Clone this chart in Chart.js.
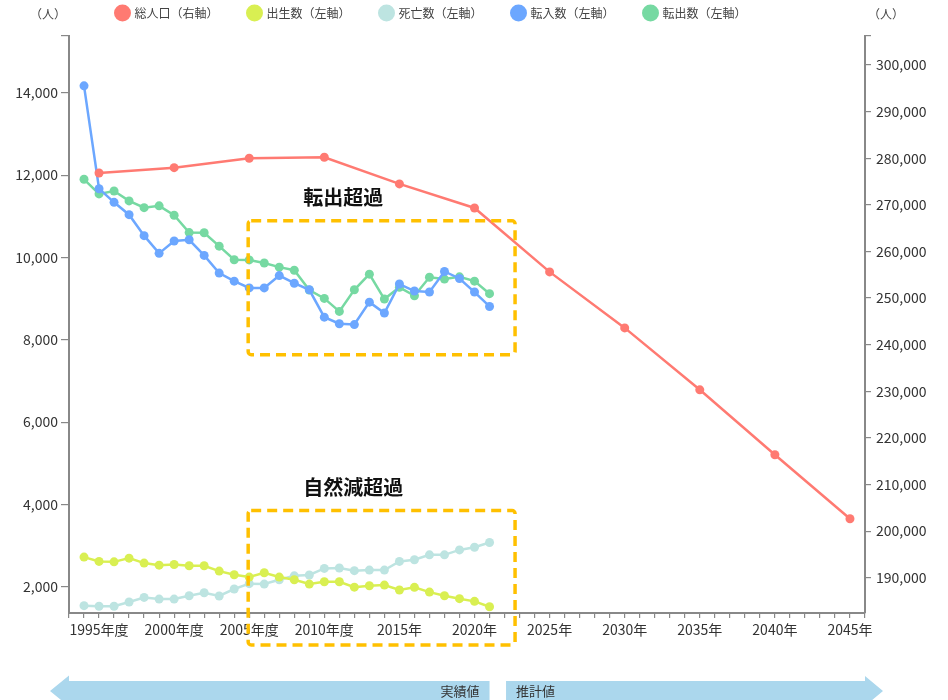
<!DOCTYPE html>
<html><head><meta charset="utf-8">
<script src="https://cdn.jsdelivr.net/npm/chart.js@4.4.1/dist/chart.umd.min.js"></script>
<style>html,body{margin:0;padding:0;background:#fff;} #wrap{width:948px;height:700px;position:relative;}</style>
</head><body><div id="wrap"><canvas id="c" width="948" height="700"></canvas></div>
<script>
// ---- data ----
const years = [1994,1995,1996,1997,1998,1999,2000,2001,2002,2003,2004,2005,2006,2007,2008,2009,2010,2011,2012,2013,2014,2015,2016,2017,2018,2019,2020,2021];
const births   = [2720,2615,2605,2695,2575,2525,2540,2510,2510,2380,2290,2235,2340,2235,2170,2065,2120,2120,1990,2025,2040,1920,1985,1870,1780,1710,1645,1515];
const deaths   = [1540,1525,1525,1630,1740,1700,1700,1780,1855,1775,1945,2075,2065,2170,2265,2285,2445,2455,2390,2405,2405,2615,2655,2775,2775,2895,2960,3075];
const movedIn  = [14170,11670,11340,11040,10530,10100,10400,10430,10050,9620,9425,9260,9260,9560,9375,9215,8550,8390,8370,8915,8650,9355,9185,9160,9660,9490,9160,8810];
const movedOut = [11900,11545,11615,11375,11210,11255,11025,10605,10600,10275,9945,9940,9865,9765,9690,9210,9005,8690,9215,9595,8990,9275,9070,9520,9475,9530,9425,9120];
const popYears = [1995,2000,2005,2010,2015,2020,2025,2030,2035,2040,2045];
const population = [276830,277970,279990,280200,274480,269330,255610,243600,230310,216370,202650];
const tickYears  = [1995,2000,2005,2010,2015,2020,2025,2030,2035,2040,2045];
const tickLabels = ['1995年度','2000年度','2005年度','2010年度','2015年','2020年','2025年','2030年','2035年','2040年','2045年'];
const seriesNames = ['総人口（右軸）','出生数（左軸）','死亡数（左軸）','転入数（左軸）','転出数（左軸）'];

const colors = ['#FF7A72','#D9EF52','#BDE4E1','#6CA7FF','#76D9A2'];
const FONT = '"Noto Sans CJK JP","Noto Sans",sans-serif';
Chart.defaults.font.family = FONT;

function pts(xs, ys){ return xs.map((x,i)=>({x:x, y:ys[i]})); }
function ds(i, data, axis){
  return {label: seriesNames[i], data: data, yAxisID: axis,
    borderColor: colors[i], backgroundColor: colors[i], pointBackgroundColor: colors[i], pointBorderColor: colors[i],
    borderWidth: 2.5, pointRadius: 4.5, pointBorderWidth: 0, pointHoverRadius: 4.5, tension: 0, fill:false};
}

const decor = {
  id: 'decor',
  afterLayout(chart){
    const lg = chart.legend;
    if (lg){ lg.top = 7 - 30; lg.left = -42.5; lg.right = 948 - 42.5; }
  },
  afterDraw(chart){
    const ctx = chart.ctx, xs = chart.scales.x, ys = chart.scales.y;
    ctx.save();
    // unit labels
    ctx.fillStyle = '#444'; ctx.font = '12px ' + FONT; ctx.textAlign = 'center'; ctx.textBaseline = 'middle';
    ctx.fillText('（人）', 48, 14);
    ctx.fillText('（人）', 886, 14);
    // dashed boxes
    const boxes = [[2004.93, 10891, 2022.7, 7638],[2004.93, 3852, 2022.7, 587]];
    ctx.strokeStyle = '#FFC000'; ctx.lineWidth = 3.5; ctx.setLineDash([10,6]);
    boxes.forEach(b=>{
      const x1 = xs.getPixelForValue(b[0]), x2 = xs.getPixelForValue(b[2]);
      const y1 = ys.getPixelForValue(b[1]), y2 = ys.getPixelForValue(b[3]);
      ctx.beginPath(); ctx.roundRect(x1, y1, x2-x1, y2-y1, 3); ctx.stroke();
    });
    ctx.setLineDash([]);
    // annotation texts
    ctx.fillStyle = '#111'; ctx.font = 'bold 20px ' + FONT; ctx.textAlign = 'left';
    ctx.fillText('転出超過', xs.getPixelForValue(2008.6), ys.getPixelForValue(11449));
    ctx.fillText('自然減超過', xs.getPixelForValue(2008.6), ys.getPixelForValue(4410));
    // arrows
    ctx.fillStyle = '#ABD7ED';
    const xEnd = xs.getPixelForValue(2021), xStart2 = xs.getPixelForValue(2022.1), xR = xs.right;
    ctx.beginPath();
    ctx.moveTo(50, 691); ctx.lineTo(69, 675.5); ctx.lineTo(69, 681); ctx.lineTo(xEnd, 681);
    ctx.lineTo(xEnd, 706); ctx.lineTo(69, 706); ctx.lineTo(69, 706.5); ctx.closePath(); ctx.fill();
    ctx.beginPath();
    ctx.moveTo(xStart2, 681); ctx.lineTo(xR, 681); ctx.lineTo(xR, 676); ctx.lineTo(xR+18, 691);
    ctx.lineTo(xR, 706); ctx.lineTo(xStart2, 706); ctx.closePath(); ctx.fill();
    ctx.fillStyle = '#333'; ctx.font = '13px ' + FONT; ctx.textBaseline = 'middle';
    ctx.textAlign = 'right'; ctx.fillText('実績値', xEnd - 10, 691);
    ctx.textAlign = 'left'; ctx.fillText('推計値', xStart2 + 10, 691);
    ctx.restore();
  }
};
const legendFit = {
  id: 'legendFit',
  beforeInit(chart){
    const lg = chart.legend; const orig = lg.fit;
    lg.fit = function(){ orig.bind(lg)(); this.height = 36; };
  }
};

const axisColor = '#888';
new Chart(document.getElementById('c'), {
  type: 'line',
  data: { datasets: [
    ds(0, pts(popYears, population), 'y1'),
    ds(1, pts(years, births), 'y'),
    ds(2, pts(years, deaths), 'y'),
    ds(3, pts(years, movedIn), 'y'),
    ds(4, pts(years, movedOut), 'y')
  ]},
  options: {
    responsive: false, animation: false, parsing: true,
    layout: {padding: 0},
    plugins: {
      tooltip: {enabled:false},
      legend: {position:'top', align:'center',
        labels: {usePointStyle:true, pointStyle:'circle', padding:30, color:'#444', font:{size:12, family:FONT},
          generateLabels: (chart)=> Chart.defaults.plugins.legend.labels.generateLabels(chart).map(l=>Object.assign(l,{lineWidth:0, pointStyle:'circle'}))}}
    },
    scales: {
      x: {type:'linear', position:'bottom', min:1993, max:2046,
        afterBuildTicks(s){ const t=[]; for(let v=1993; v<=2046; v++) t.push({value:v}); s.ticks=t; },
        afterFit(s){ s.height = 87; },
        ticks: {autoSkip:false, maxRotation:0, color:'#333', font:{size:14}, padding:3,
          callback(v){ const i = tickYears.indexOf(v); return i>=0 ? tickLabels[i] : ''; }},
        grid: {drawOnChartArea:false, drawTicks:true, tickLength:5, color:axisColor, lineWidth:1.2},
        border: {display:true, color:axisColor, width:2}
      },
      y: {type:'linear', position:'left', min:1362, max:15381,
        afterBuildTicks(s){ const t=[]; for(let v=2000; v<=14000; v+=2000) t.push({value:v}); t.push({value:15381}); s.ticks=t; },
        afterFit(s){ s.width = 69; },
        ticks: {color:'#333', font:{size:14}, padding:3,
          callback(v){ return v%2000===0 ? v.toLocaleString('en-US') : ''; }},
        grid: {drawOnChartArea:false, tickLength:8, color:axisColor, lineWidth:1.2},
        border: {display:true, color:axisColor, width:2}
      },
      y1: {type:'linear', position:'right', min:182431, max:306218,
        afterBuildTicks(s){ const t=[]; for(let v=190000; v<=300000; v+=10000) t.push({value:v}); t.push({value:306218}); s.ticks=t; },
        afterFit(s){ s.width = 83; },
        ticks: {color:'#333', font:{size:14}, padding:5,
          callback(v){ return v%10000===0 ? v.toLocaleString('en-US') : ''; }},
        grid: {drawOnChartArea:false, tickLength:6, color:axisColor, lineWidth:1.2},
        border: {display:true, color:axisColor, width:2}
      }
    }
  },
  plugins: [legendFit, decor]
});
</script></body></html>
